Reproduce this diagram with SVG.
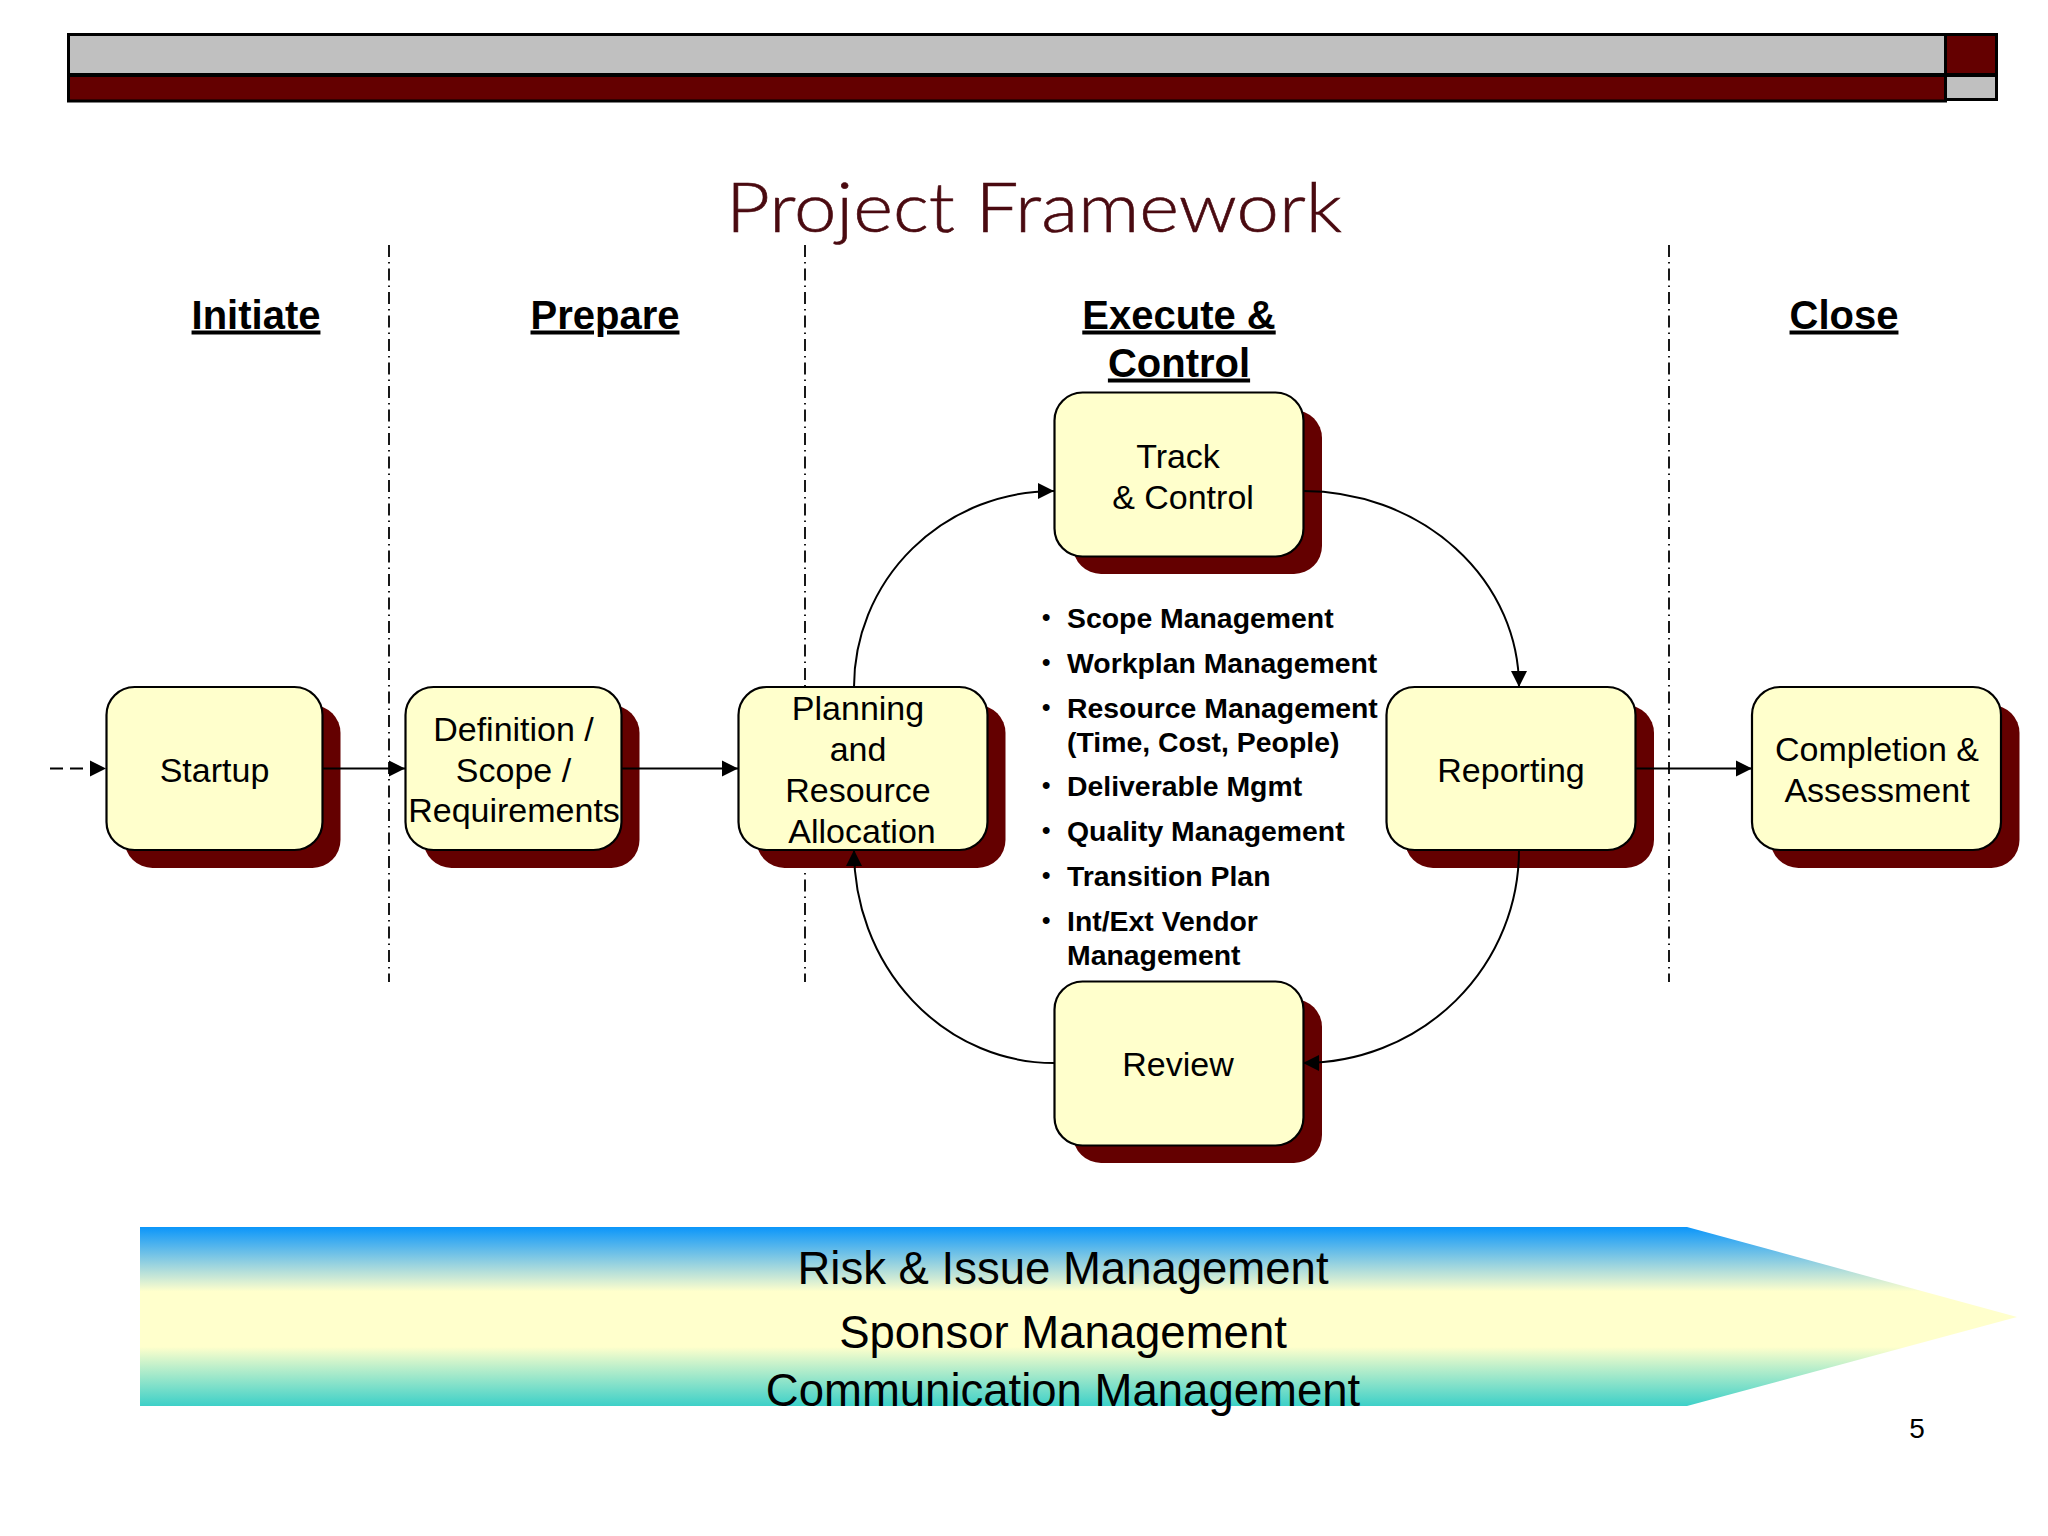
<svg xmlns="http://www.w3.org/2000/svg" width="2048" height="1536" viewBox="0 0 2048 1536">
<style>
.sh{fill:#640000}
.box{fill:#ffffcc;stroke:#000;stroke-width:2.2}
text{font-family:"Liberation Sans",Arial,sans-serif;fill:#000}
.n{font-size:34px;text-anchor:middle}
.ph{font-size:40px;font-weight:bold;text-anchor:middle;text-decoration:underline}
.bl{font-size:28.400px;font-weight:bold}
.dot{font-size:24px;font-weight:bold}
.bn{font-size:45.500px;text-anchor:middle}
.div{fill:none;stroke:#000;stroke-width:1.8;stroke-dasharray:12 5 1.5 5}
.c{fill:none;stroke:#000;stroke-width:2;marker-end:url(#a)}
.hd{stroke:#000;stroke-width:3}
</style>
<defs>
<marker id="a" markerUnits="userSpaceOnUse" markerWidth="18" markerHeight="18" refX="16" refY="8" orient="auto" overflow="visible"><path d="M0 0L16 8L0 16Z" fill="#000"/></marker>
<linearGradient id="g" x1="0" y1="0" x2="0" y2="1">
<stop offset="0" stop-color="#0b96fa"/><stop offset=".36" stop-color="#ffffcc"/><stop offset=".67" stop-color="#ffffcc"/><stop offset="1" stop-color="#3dd0c8"/>
</linearGradient>
</defs>
<rect width="2048" height="1536" fill="#fff"/>
<g id="header">
<rect class="hd" x="68.500" y="34.500" width="1877" height="40" fill="#c0c0c0"/>
<rect class="hd" x="68.500" y="75.500" width="1877" height="25.500" fill="#640000"/>
<rect class="hd" x="1945.500" y="34.500" width="51" height="40" fill="#640000"/>
<rect class="hd" x="1945.500" y="75.500" width="51" height="24" fill="#c0c0c0"/>
</g>
<text id="title" x="1034" y="232" text-anchor="middle" textLength="616" lengthAdjust="spacingAndGlyphs" style="font-family:Lato,'Liberation Sans',sans-serif;font-weight:300;font-size:68px;fill:#4a0a10;stroke:#4a0a10;stroke-width:.6">Project Framework</text>
<g id="dividers">
<line class="div" x1="389" y1="245" x2="389" y2="982"/>
<line class="div" x1="805" y1="245" x2="805" y2="982"/>
<line class="div" x1="1669" y1="245" x2="1669" y2="982"/>
</g>
<g id="phases">
<text class="ph" x="256" y="328.500">Initiate</text>
<text class="ph" x="605" y="328.500">Prepare</text>
<text class="ph" x="1179" y="328.500">Execute &amp;</text>
<text class="ph" x="1179" y="376.500">Control</text>
<text class="ph" x="1844" y="328.500">Close</text>
</g>
<g id="banner">
<path d="M140 1227H1687L2017 1317L1687 1406H140Z" fill="url(#g)"/>
<text class="bn" x="1063" y="1284">Risk &amp; Issue Management</text>
<text class="bn" x="1063" y="1348">Sponsor Management</text>
<text class="bn" x="1063" y="1406">Communication Management</text>
</g>
<g id="startup"><rect class="sh" x="124.500" y="705" width="216" height="163" rx="28"/><rect class="box" x="106.500" y="687" width="216" height="163" rx="28"/><text class="n" x="214.500" y="782">Startup</text></g>
<g id="definition"><rect class="sh" x="423.500" y="705" width="216" height="163" rx="28"/><rect class="box" x="405.500" y="687" width="216" height="163" rx="28"/><text class="n" x="513.500" y="741">Definition /</text><text class="n" x="513.500" y="782">Scope /</text><text class="n" x="514" y="822">Requirements</text></g>
<g id="planning"><rect class="sh" x="756.500" y="705" width="249" height="163" rx="28"/><rect class="box" x="738.500" y="687" width="249" height="163" rx="28"/><text class="n" x="858" y="720">Planning</text><text class="n" x="858" y="761">and</text><text class="n" x="858" y="802">Resource</text><text class="n" x="862" y="843">Allocation</text></g>
<g id="track"><rect class="sh" x="1073" y="410" width="249" height="164" rx="28"/><rect class="box" x="1054.500" y="392.500" width="249" height="164" rx="28"/><text class="n" x="1178" y="468">Track</text><text class="n" x="1183" y="509">&amp; Control</text></g>
<g id="reporting"><rect class="sh" x="1405" y="705" width="249" height="163" rx="28"/><rect class="box" x="1386.500" y="687" width="249" height="163" rx="28"/><text class="n" x="1511" y="782">Reporting</text></g>
<g id="completion"><rect class="sh" x="1770.500" y="705" width="249" height="163" rx="28"/><rect class="box" x="1752" y="687" width="249" height="163" rx="28"/><text class="n" x="1877" y="761">Completion &amp;</text><text class="n" x="1877" y="802">Assessment</text></g>
<g id="review"><rect class="sh" x="1073" y="999" width="249" height="164" rx="28"/><rect class="box" x="1054.500" y="981.500" width="249" height="164" rx="28"/><text class="n" x="1178" y="1076">Review</text></g>
<g id="connectors">
<line class="c" x1="50" y1="768.500" x2="106" y2="768.500" stroke-dasharray="13 7"/>
<line class="c" x1="323" y1="768.500" x2="405" y2="768.500"/>
<line class="c" x1="621" y1="768.500" x2="738" y2="768.500"/>
<line class="c" x1="1635" y1="768.500" x2="1752" y2="768.500"/>
<path class="c" d="M854 687A200 196 0 0 1 1054 491"/>
<path class="c" d="M1303 491A216 196 0 0 1 1519 687"/>
<path class="c" d="M1519 850A216 213 0 0 1 1303 1063"/>
<path class="c" d="M1054 1063A200 213 0 0 1 854 850"/>
</g>
<g id="bullets">
<text class="dot" x="1042" y="625">•</text><text class="bl" x="1067" y="628">Scope Management</text>
<text class="dot" x="1042" y="670">•</text><text class="bl" x="1067" y="673">Workplan Management</text>
<text class="dot" x="1042" y="715">•</text><text class="bl" x="1067" y="718">Resource Management</text>
<text class="bl" x="1067" y="752">(Time, Cost, People)</text>
<text class="dot" x="1042" y="793">•</text><text class="bl" x="1067" y="796">Deliverable Mgmt</text>
<text class="dot" x="1042" y="838">•</text><text class="bl" x="1067" y="841">Quality Management</text>
<text class="dot" x="1042" y="883">•</text><text class="bl" x="1067" y="886">Transition Plan</text>
<text class="dot" x="1042" y="928">•</text><text class="bl" x="1067" y="931">Int/Ext Vendor</text>
<text class="bl" x="1067" y="965">Management</text>
</g>
<text id="page" x="1917" y="1438" text-anchor="middle" font-size="28">5</text>
</svg>
